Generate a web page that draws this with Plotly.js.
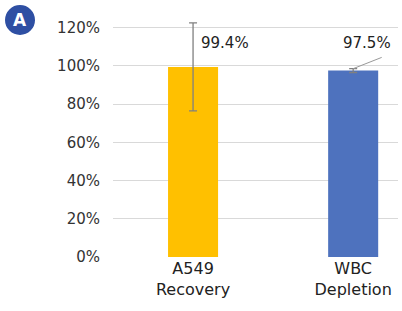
<!DOCTYPE html>
<html>
<head>
<meta charset="utf-8">
<script src="https://cdn.plot.ly/plotly-3.0.1.min.js"></script>
<style>html,body{margin:0;padding:0;background:#fff;}#chart{width:402px;height:311px;}</style>
</head>
<body>
<div id="chart"></div>
<script>
const categories = ["A549<br>Recovery", "WBC<br>Depletion"];
const values = [99.4, 97.5];
const errors = [23, 1];
const barColors = ["#FFC000", "#4E72BE"];
const valueLabels = ["99.4%", "97.5%"];
const tickVals = [0, 20, 40, 60, 80, 100, 120];
const tickText = ["0%", "20%", "40%", "60%", "80%", "100%", "120%"];

const font = "DejaVu Sans, sans-serif";

const trace = {
  type: "bar",
  x: [0, 1],
  y: values,
  width: 0.3125,
  marker: {color: barColors},
  error_y: {type: "data", array: errors, visible: true, color: "#808080", thickness: 1.3, width: 4},
  cliponaxis: false,
  hoverinfo: "none"
};

const layout = {
  width: 402, height: 311,
  margin: {l: 113, r: 4, t: 18, b: 54},
  paper_bgcolor: "#fff", plot_bgcolor: "#fff",
  showlegend: false,
  font: {family: font, color: "#222"},
  xaxis: {
    range: [-0.5, 1.28],
    tickvals: [0, 1], ticktext: categories,
    showgrid: false, zeroline: false, showline: false, ticks: "",
    tickfont: {size: 16, color: "#222", family: font},
    fixedrange: true
  },
  yaxis: {
    range: [0, 125],
    tickvals: tickVals, ticktext: tickText,
    showgrid: true, gridcolor: "#d9d9d9", gridwidth: 1,
    zeroline: false, showline: false, ticks: "",
    ticklabelstandoff: 12,
    tickfont: {size: 15, color: "#333", family: font},
    fixedrange: true
  },
  annotations: [
    {xref: "x", yref: "y", x: 0.2, y: 112, text: valueLabels[0], showarrow: false,
     font: {size: 15, color: "#222", family: font}},
    {xref: "x", yref: "y", x: 1.0875, y: 112, text: valueLabels[1], showarrow: false,
     font: {size: 15, color: "#222", family: font}},
    {xref: "x", yref: "y", x: 1.0, y: values[1] + 1, axref: "x", ayref: "y", ax: 1.1875, ay: 104.7,
     text: "", showarrow: true, arrowhead: 0, arrowwidth: 1, arrowcolor: "#999", standoff: 0, startstandoff: 0},
    {xref: "paper", yref: "paper", x: -0.3263, y: 0.9916, text: "<b>A</b>", showarrow: false,
     xanchor: "center", yanchor: "middle", font: {size: 17, color: "#fff", family: font}}
  ],
  shapes: [
    {type: "circle", xref: "paper", yref: "paper", xsizemode: "pixel", ysizemode: "pixel",
     xanchor: -0.3263, yanchor: 0.9916, x0: -15, x1: 15, y0: -15, y1: 15,
     fillcolor: "#2E4FA3", line: {width: 0}, layer: "above"}
  ]
};

Plotly.newPlot("chart", [trace], layout, {displayModeBar: false, staticPlot: true});
</script>
</body>
</html>
